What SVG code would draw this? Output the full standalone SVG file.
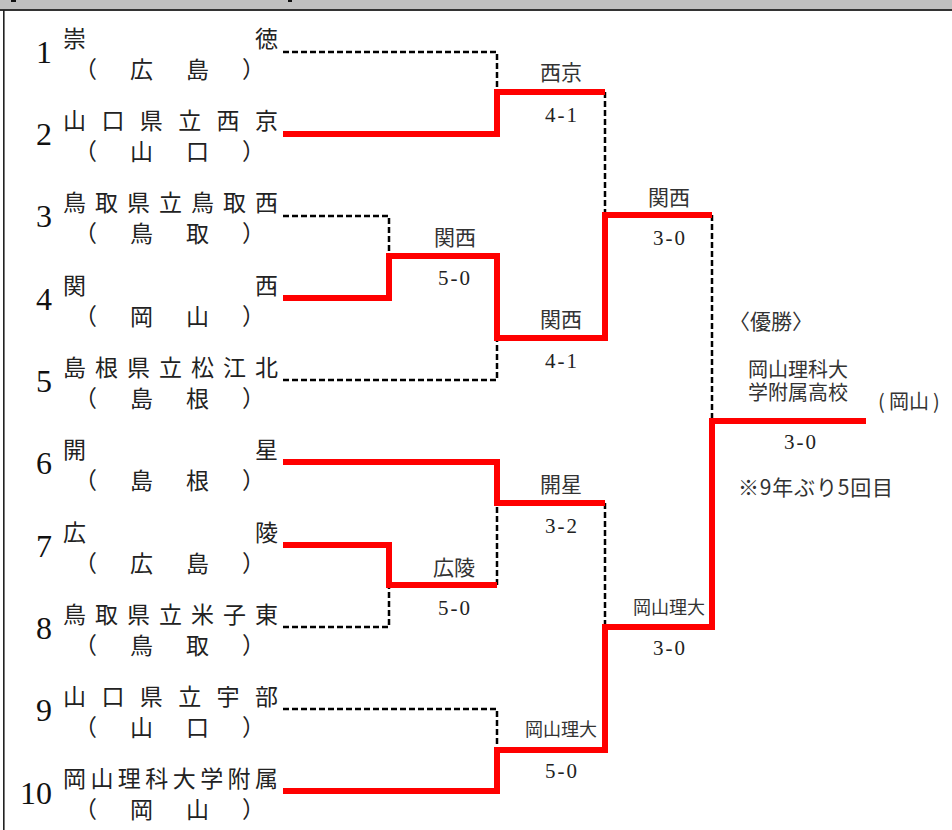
<svg xmlns="http://www.w3.org/2000/svg" width="952" height="830" viewBox="0 0 952 830">
<style>
.nm{font-family:"Noto Sans CJK JP","Noto Sans CJK SC",sans-serif;font-size:23px;fill:#222}
.num{font-family:"Liberation Serif",serif;font-size:32px;fill:#111;text-anchor:end}
.lb{font-family:"Noto Sans CJK JP",sans-serif;font-size:21px;fill:#333;text-anchor:middle}
.lbs{font-family:"Noto Sans CJK JP",sans-serif;font-size:18px;fill:#333;text-anchor:middle}
.sc{font-family:"Liberation Serif",serif;font-size:21px;fill:#222;text-anchor:middle;letter-spacing:2px}
.win{fill:none;stroke:#ff0000;stroke-width:6;stroke-linejoin:miter;stroke-linecap:butt}
.lose{fill:none;stroke:#000;stroke-width:2.5;stroke-dasharray:6 3}
</style>
<rect x="0" y="0" width="952" height="10" fill="#c0c0c0"/>
<rect x="0" y="9" width="952" height="2" fill="#333"/>
<rect x="3" y="10" width="1.6" height="820" fill="#222"/>
<rect x="11" y="0" width="5" height="2" fill="#111"/>
<rect x="288" y="0" width="4" height="2" fill="#111"/>

<g id="connectors">
<path class="lose" d="M283,52 H497 V92"/>
<path class="lose" d="M283,216 H389 V256"/>
<path class="lose" d="M283,380 H497 V338"/>
<path class="lose" d="M605,92 V215"/>
<path class="lose" d="M712,215 V421"/>
<path class="lose" d="M283,627 H389 V585"/>
<path class="lose" d="M497,585 V503"/>
<path class="lose" d="M605,503 V627"/>
<path class="lose" d="M283,709 H497 V750"/>
<path class="win" d="M283,134 H497 V92 H605"/>
<path class="win" d="M283,298 H389 V256 H497 V338 H605 V215 H712"/>
<path class="win" d="M283,462 H497 V503 H605"/>
<path class="win" d="M283,545 H389 V585 H497"/>
<path class="win" d="M283,791 H497 V750 H605 V627 H712 V421 H866"/>
</g>

<g id="team1"><text class="num" x="52" y="63">1</text><text class="nm" x="63" y="47" textLength="215" lengthAdjust="spacing">崇徳</text><text class="nm" x="74" y="78" textLength="191" lengthAdjust="spacing">（広島）</text></g>
<g id="team2"><text class="num" x="52" y="145">2</text><text class="nm" x="63" y="129" textLength="215" lengthAdjust="spacing">山口県立西京</text><text class="nm" x="74" y="160" textLength="191" lengthAdjust="spacing">（山口）</text></g>
<g id="team3"><text class="num" x="52" y="227">3</text><text class="nm" x="63" y="211" textLength="215" lengthAdjust="spacing">鳥取県立鳥取西</text><text class="nm" x="74" y="242" textLength="191" lengthAdjust="spacing">（鳥取）</text></g>
<g id="team4"><text class="num" x="52" y="310">4</text><text class="nm" x="63" y="294" textLength="215" lengthAdjust="spacing">関西</text><text class="nm" x="74" y="325" textLength="191" lengthAdjust="spacing">（岡山）</text></g>
<g id="team5"><text class="num" x="52" y="392">5</text><text class="nm" x="63" y="376" textLength="215" lengthAdjust="spacing">島根県立松江北</text><text class="nm" x="74" y="407" textLength="191" lengthAdjust="spacing">（島根）</text></g>
<g id="team6"><text class="num" x="52" y="474">6</text><text class="nm" x="63" y="458" textLength="215" lengthAdjust="spacing">開星</text><text class="nm" x="74" y="489" textLength="191" lengthAdjust="spacing">（島根）</text></g>
<g id="team7"><text class="num" x="52" y="557">7</text><text class="nm" x="63" y="541" textLength="215" lengthAdjust="spacing">広陵</text><text class="nm" x="74" y="572" textLength="191" lengthAdjust="spacing">（広島）</text></g>
<g id="team8"><text class="num" x="52" y="639">8</text><text class="nm" x="63" y="623" textLength="215" lengthAdjust="spacing">鳥取県立米子東</text><text class="nm" x="74" y="654" textLength="191" lengthAdjust="spacing">（鳥取）</text></g>
<g id="team9"><text class="num" x="52" y="721">9</text><text class="nm" x="63" y="705" textLength="215" lengthAdjust="spacing">山口県立宇部</text><text class="nm" x="74" y="736" textLength="191" lengthAdjust="spacing">（山口）</text></g>
<g id="team10"><text class="num" x="52" y="804">10</text><text class="nm" x="63" y="787" textLength="215" lengthAdjust="spacing">岡山理科大学附属</text><text class="nm" x="74" y="818" textLength="191" lengthAdjust="spacing">（岡山）</text></g>

<g id="m1"><text class="lb" x="561" y="80">西京</text><text class="sc" x="562" y="122">4-1</text></g>
<g id="m2"><text class="lb" x="455" y="245">関西</text><text class="sc" x="455" y="285">5-0</text></g>
<g id="m3"><text class="lb" x="561" y="327">関西</text><text class="sc" x="562" y="368">4-1</text></g>
<g id="m4"><text class="lb" x="669" y="205">関西</text><text class="sc" x="670" y="245">3-0</text></g>
<g id="m5"><text class="lb" x="561" y="492">開星</text><text class="sc" x="562" y="533">3-2</text></g>
<g id="m6"><text class="lb" x="454" y="575">広陵</text><text class="sc" x="455" y="615">5-0</text></g>
<g id="m7"><text class="lbs" x="669" y="614">岡山理大</text><text class="sc" x="670" y="655">3-0</text></g>
<g id="m8"><text class="lbs" x="561" y="736">岡山理大</text><text class="sc" x="562" y="778">5-0</text></g>
<g id="final"><text class="sc" x="801" y="449">3-0</text>
<text class="lb" x="771" y="329">〈優勝〉</text>
<text class="lb" x="798" y="377" style="font-size:20px">岡山理科大</text>
<text class="lb" x="798" y="400" style="font-size:20px">学附属高校</text>
<text class="lb" x="878" y="409" style="text-anchor:start;font-size:20px"><tspan x="878">(</tspan><tspan x="889">岡山</tspan><tspan x="933">)</tspan></text>
<text class="lb" x="738" y="495" style="text-anchor:start" textLength="155" lengthAdjust="spacing">※9年ぶり5回目</text></g>
</svg>
